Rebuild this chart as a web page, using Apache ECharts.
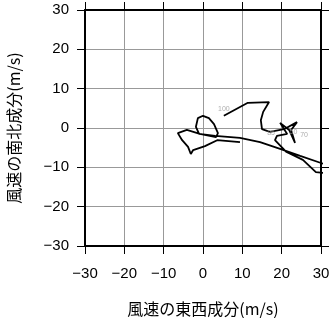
<!DOCTYPE html>
<html>
<head>
<meta charset="utf-8">
<script src="https://cdn.jsdelivr.net/npm/echarts@6/dist/echarts.min.js"></script>
<style>html,body{margin:0;padding:0;background:#fff}#c{width:331px;height:318px}</style>
</head>
<body>
<div id="c"></div>
<script>
// Hodograph: east-west component (u) and north-south component (v), m/s
const uValues = [9.4, 3.6, 0.5, -2.5, -3.1, -3.8, -5.3, -6.4, -4.1, -0.8, 3.3, 3.8, 2.8, 1.5, 0.0, -1.3, -1.8, -1.0, 3.1, 9.4, 14.5, 19.6, 24.7, 30.0, 35.0, 36.0, 28.7, 25.4, 21.1, 18.3, 18.8, 21.4, 19.6, 21.9, 23.4, 22.4, 23.9, 20.6, 17.0, 15.0, 14.7, 15.3, 16.8, 11.4, 5.3];
const vValues = [-3.6, -3.1, -4.6, -5.6, -6.6, -4.8, -3.1, -1.3, -0.5, -1.5, -2.3, -1.3, 1.0, 2.5, 3.1, 2.5, 0.3, -1.5, -2.0, -2.5, -3.6, -5.3, -7.1, -8.9, -10.5, -12.0, -11.2, -8.1, -6.0, -3.1, -2.0, -1.5, 1.3, -0.5, -3.8, -0.5, 1.5, -0.3, -1.0, -0.3, 2.0, 4.1, 6.6, 6.4, 3.1];
const levelLabels = ["100", "85", "50", "70"];
const labelU = [5.3, 17.3, 23.0, 25.7];
const labelV = [4.8, -1.2, -1.0, -1.8];
const tickValues = [-30, -20, -10, 0, 10, 20, 30];

const fmt = v => (v < 0 ? '\u2212' + Math.abs(v) : String(v));
const font = '"Liberation Sans", Arial, sans-serif';
const cjk = '"Noto Sans CJK JP", "Liberation Sans", sans-serif';

const chart = echarts.init(document.getElementById('c'), null, {renderer: 'canvas'});
const lineData = uValues.map((u, i) => [u, vValues[i]]);
const labelData = levelLabels.map((t, i) => ({value: [labelU[i], labelV[i]], name: t}));

function axisBase(pos, showLabel) {
  return {
    type: 'value', min: tickValues[0], max: tickValues[tickValues.length - 1], interval: 10,
    position: pos,
    axisLine: {show: true, onZero: false, lineStyle: {color: '#000', width: 2}},
    axisTick: {show: true, inside: false, length: 8, lineStyle: {color: '#000', width: 1}},
    axisLabel: {show: showLabel, color: '#000', fontSize: 15, fontFamily: font, formatter: fmt},
    splitLine: {show: showLabel, lineStyle: {color: '#999', width: 1}}
  };
}

const xb = axisBase('bottom', true);
xb.axisLabel.margin = 20;
xb.name = '風速の東西成分(m/s)';
xb.nameLocation = 'middle';
xb.nameGap = 55;
xb.nameTextStyle = {fontSize: 16, fontFamily: cjk, color: '#000'};
const xt = axisBase('top', false);
const yl = axisBase('left', true);
yl.axisLabel.margin = 16;
yl.name = '風速の南北成分(m/s)';
yl.nameLocation = 'middle';
yl.nameGap = 63;
yl.nameTextStyle = {fontSize: 16, fontFamily: cjk, color: '#000'};
const yr = axisBase('right', false);

chart.setOption({
  animation: false,
  grid: {left: 85, right: 10, top: 10, bottom: 72, containLabel: false, outerBoundsMode: 'none'},
  xAxis: [xb, xt],
  yAxis: [yl, yr],
  series: [
    {
      type: 'line', xAxisIndex: 0, yAxisIndex: 0, data: lineData, showSymbol: false,
      clip: true, lineStyle: {color: '#000', width: 1.8}, z: 5
    },
    {
      type: 'scatter', xAxisIndex: 0, yAxisIndex: 0, data: labelData, symbolSize: 0,
      label: {show: true, formatter: p => p.name, color: '#999', fontSize: 7, fontFamily: font, position: 'inside'},
      labelLayout: {hideOverlap: false},
      z: 6
    }
  ]
});
</script>
</body>
</html>
